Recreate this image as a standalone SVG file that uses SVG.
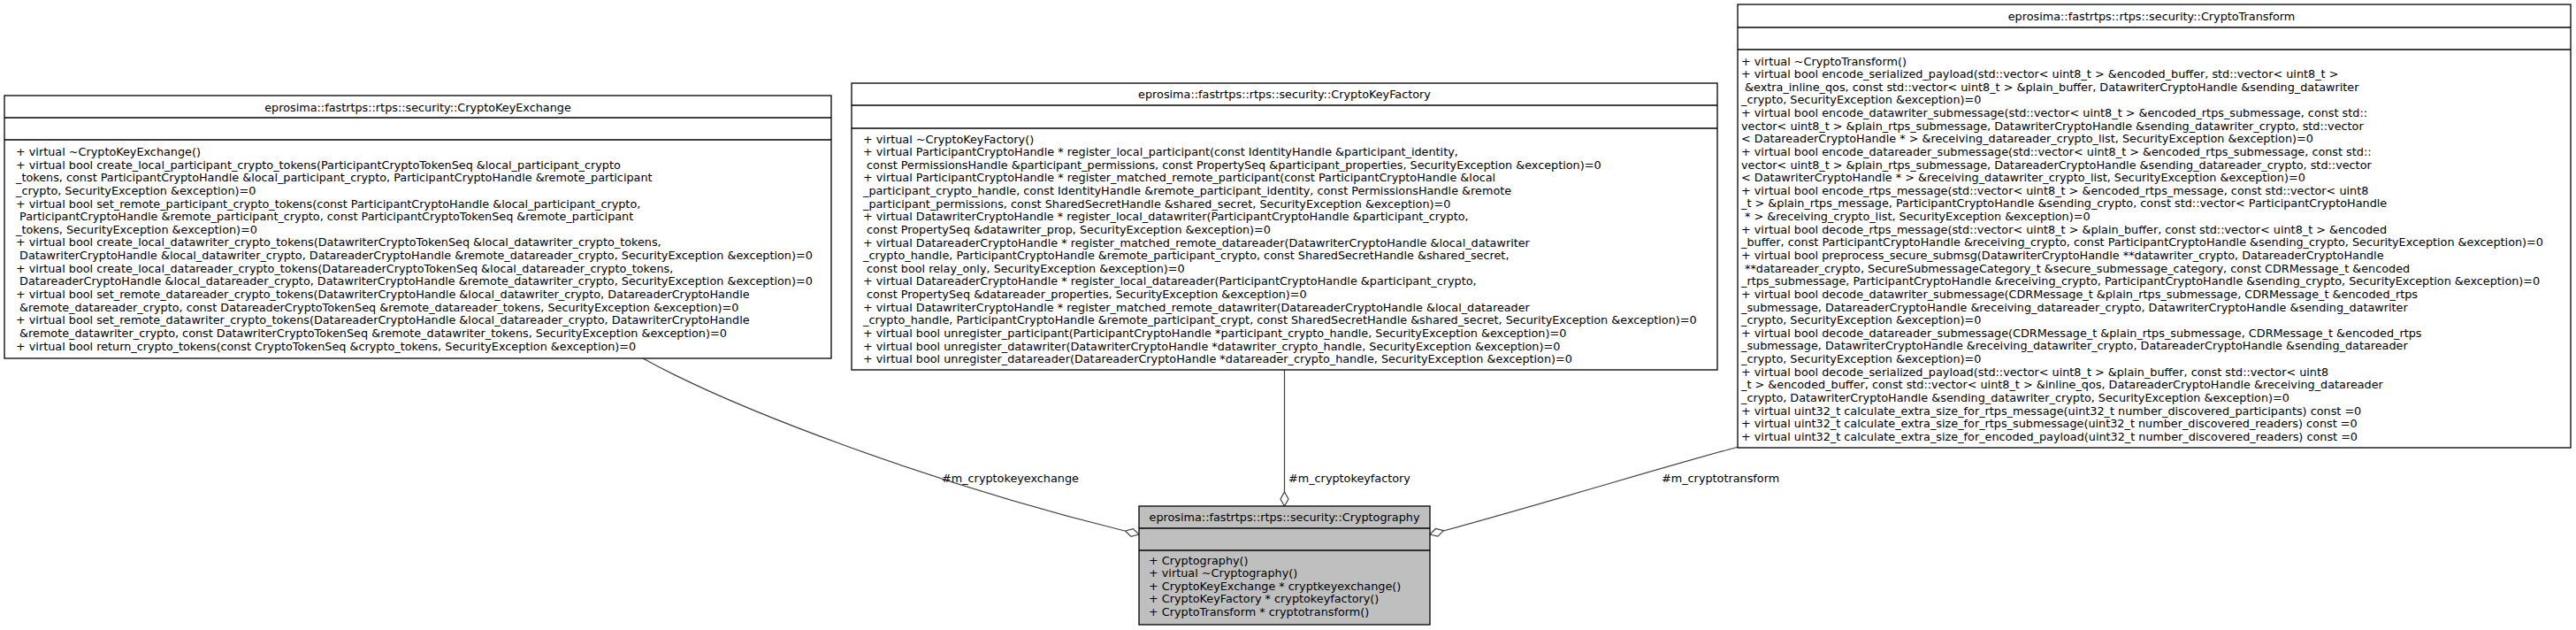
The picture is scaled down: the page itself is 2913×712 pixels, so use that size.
<svg xmlns="http://www.w3.org/2000/svg" width="2913" height="712" viewBox="0 0 2913 712">
<style>
.bg{fill:#ffffff}
.box{fill:#ffffff;stroke:#000000;stroke-width:1.3}
.cur{fill:#bfbfbf;stroke:#000000;stroke-width:1.3}
.sep{stroke:#000000;stroke-width:1.3}
.t{font-family:"DejaVu Sans","Liberation Sans",sans-serif;font-size:12.8px;fill:#000000;white-space:pre}
.c{text-anchor:middle}
.edge{fill:none;stroke:#404040;stroke-width:1.2}
.dia{fill:#ffffff;stroke:#404040;stroke-width:1.2}
</style>
<rect class="bg" x="0" y="0" width="2913" height="712"/>
<g id="connectors">
<path class="edge" d="M727,405 C830,462 1050,545 1272,600"/>
<polygon class="dia" points="1288,604 1281.4,597.6 1272.5,600 1279.1,606.4"/>
<text class="t" x="1065" y="544.5">#m_cryptokeyexchange</text>
<path class="edge" d="M1452.5,418 L1452.5,556"/>
<polygon class="dia" points="1452.5,556 1457,564 1452.5,572 1448,564"/>
<text class="t" x="1457" y="544.5">#m_cryptokeyfactory</text>
<path class="edge" d="M1966,505 C1900,522 1760,565 1632,600"/>
<polygon class="dia" points="1617,604 1623.5,597.5 1632.4,599.7 1625.9,606.1"/>
<text class="t" x="1879" y="544.5">#m_cryptotransform</text>
</g>
<g id="CryptoKeyExchange">
<rect class="box" x="5" y="108" width="935" height="297"/>
<line class="sep" x1="5" y1="133" x2="940" y2="133"/>
<line class="sep" x1="5" y1="158" x2="940" y2="158"/>
<text class="t c" x="472.5" y="126">eprosima::fastrtps::rtps::security::CryptoKeyExchange</text>
<text class="t" x="18" y="176">+ virtual ~CryptoKeyExchange()</text>
<text class="t" x="18" y="190.6">+ virtual bool create_local_participant_crypto_tokens(ParticipantCryptoTokenSeq &amp;local_participant_crypto</text>
<text class="t" x="18" y="205.3">_tokens, const ParticipantCryptoHandle &amp;local_participant_crypto, ParticipantCryptoHandle &amp;remote_participant</text>
<text class="t" x="18" y="219.9">_crypto, SecurityException &amp;exception)=0</text>
<text class="t" x="18" y="234.5">+ virtual bool set_remote_participant_crypto_tokens(const ParticipantCryptoHandle &amp;local_participant_crypto,</text>
<text class="t" x="18" y="249.2"> ParticipantCryptoHandle &amp;remote_participant_crypto, const ParticipantCryptoTokenSeq &amp;remote_participant</text>
<text class="t" x="18" y="263.8">_tokens, SecurityException &amp;exception)=0</text>
<text class="t" x="18" y="278.4">+ virtual bool create_local_datawriter_crypto_tokens(DatawriterCryptoTokenSeq &amp;local_datawriter_crypto_tokens,</text>
<text class="t" x="18" y="293"> DatawriterCryptoHandle &amp;local_datawriter_crypto, DatareaderCryptoHandle &amp;remote_datareader_crypto, SecurityException &amp;exception)=0</text>
<text class="t" x="18" y="307.7">+ virtual bool create_local_datareader_crypto_tokens(DatareaderCryptoTokenSeq &amp;local_datareader_crypto_tokens,</text>
<text class="t" x="18" y="322.3"> DatareaderCryptoHandle &amp;local_datareader_crypto, DatawriterCryptoHandle &amp;remote_datawriter_crypto, SecurityException &amp;exception)=0</text>
<text class="t" x="18" y="336.9">+ virtual bool set_remote_datareader_crypto_tokens(DatawriterCryptoHandle &amp;local_datawriter_crypto, DatareaderCryptoHandle</text>
<text class="t" x="18" y="351.6"> &amp;remote_datareader_crypto, const DatareaderCryptoTokenSeq &amp;remote_datareader_tokens, SecurityException &amp;exception)=0</text>
<text class="t" x="18" y="366.2">+ virtual bool set_remote_datawriter_crypto_tokens(DatareaderCryptoHandle &amp;local_datareader_crypto, DatawriterCryptoHandle</text>
<text class="t" x="18" y="380.8"> &amp;remote_datawriter_crypto, const DatawriterCryptoTokenSeq &amp;remote_datawriter_tokens, SecurityException &amp;exception)=0</text>
<text class="t" x="18" y="395.5">+ virtual bool return_crypto_tokens(const CryptoTokenSeq &amp;crypto_tokens, SecurityException &amp;exception)=0</text>
</g>
<g id="CryptoKeyFactory">
<rect class="box" x="963" y="94" width="979" height="324"/>
<line class="sep" x1="963" y1="119" x2="1942" y2="119"/>
<line class="sep" x1="963" y1="145" x2="1942" y2="145"/>
<text class="t c" x="1452.5" y="110.5">eprosima::fastrtps::rtps::security::CryptoKeyFactory</text>
<text class="t" x="976" y="161.5">+ virtual ~CryptoKeyFactory()</text>
<text class="t" x="976" y="176.1">+ virtual ParticipantCryptoHandle * register_local_participant(const IdentityHandle &amp;participant_identity,</text>
<text class="t" x="976" y="190.8"> const PermissionsHandle &amp;participant_permissions, const PropertySeq &amp;participant_properties, SecurityException &amp;exception)=0</text>
<text class="t" x="976" y="205.4">+ virtual ParticipantCryptoHandle * register_matched_remote_participant(const ParticipantCryptoHandle &amp;local</text>
<text class="t" x="976" y="220">_participant_crypto_handle, const IdentityHandle &amp;remote_participant_identity, const PermissionsHandle &amp;remote</text>
<text class="t" x="976" y="234.7">_participant_permissions, const SharedSecretHandle &amp;shared_secret, SecurityException &amp;exception)=0</text>
<text class="t" x="976" y="249.3">+ virtual DatawriterCryptoHandle * register_local_datawriter(ParticipantCryptoHandle &amp;participant_crypto,</text>
<text class="t" x="976" y="263.9"> const PropertySeq &amp;datawriter_prop, SecurityException &amp;exception)=0</text>
<text class="t" x="976" y="278.5">+ virtual DatareaderCryptoHandle * register_matched_remote_datareader(DatawriterCryptoHandle &amp;local_datawriter</text>
<text class="t" x="976" y="293.2">_crypto_handle, ParticipantCryptoHandle &amp;remote_participant_crypto, const SharedSecretHandle &amp;shared_secret,</text>
<text class="t" x="976" y="307.8"> const bool relay_only, SecurityException &amp;exception)=0</text>
<text class="t" x="976" y="322.4">+ virtual DatareaderCryptoHandle * register_local_datareader(ParticipantCryptoHandle &amp;participant_crypto,</text>
<text class="t" x="976" y="337.1"> const PropertySeq &amp;datareader_properties, SecurityException &amp;exception)=0</text>
<text class="t" x="976" y="351.7">+ virtual DatawriterCryptoHandle * register_matched_remote_datawriter(DatareaderCryptoHandle &amp;local_datareader</text>
<text class="t" x="976" y="366.3">_crypto_handle, ParticipantCryptoHandle &amp;remote_participant_crypt, const SharedSecretHandle &amp;shared_secret, SecurityException &amp;exception)=0</text>
<text class="t" x="976" y="381">+ virtual bool unregister_participant(ParticipantCryptoHandle *participant_crypto_handle, SecurityException &amp;exception)=0</text>
<text class="t" x="976" y="395.6">+ virtual bool unregister_datawriter(DatawriterCryptoHandle *datawriter_crypto_handle, SecurityException &amp;exception)=0</text>
<text class="t" x="976" y="410.2">+ virtual bool unregister_datareader(DatareaderCryptoHandle *datareader_crypto_handle, SecurityException &amp;exception)=0</text>
</g>
<g id="CryptoTransform">
<rect class="box" x="1965" y="5" width="942" height="501"/>
<line class="sep" x1="1965" y1="31" x2="2907" y2="31"/>
<line class="sep" x1="1965" y1="56" x2="2907" y2="56"/>
<text class="t c" x="2433" y="22.5">eprosima::fastrtps::rtps::security::CryptoTransform</text>
<text class="t" x="1969" y="73.5">+ virtual ~CryptoTransform()</text>
<text class="t" x="1969" y="88.1">+ virtual bool encode_serialized_payload(std::vector&lt; uint8_t &gt; &amp;encoded_buffer, std::vector&lt; uint8_t &gt;</text>
<text class="t" x="1969" y="102.8"> &amp;extra_inline_qos, const std::vector&lt; uint8_t &gt; &amp;plain_buffer, DatawriterCryptoHandle &amp;sending_datawriter</text>
<text class="t" x="1969" y="117.4">_crypto, SecurityException &amp;exception)=0</text>
<text class="t" x="1969" y="132">+ virtual bool encode_datawriter_submessage(std::vector&lt; uint8_t &gt; &amp;encoded_rtps_submessage, const std::</text>
<text class="t" x="1969" y="146.7">vector&lt; uint8_t &gt; &amp;plain_rtps_submessage, DatawriterCryptoHandle &amp;sending_datawriter_crypto, std::vector</text>
<text class="t" x="1969" y="161.3">&lt; DatareaderCryptoHandle * &gt; &amp;receiving_datareader_crypto_list, SecurityException &amp;exception)=0</text>
<text class="t" x="1969" y="175.9">+ virtual bool encode_datareader_submessage(std::vector&lt; uint8_t &gt; &amp;encoded_rtps_submessage, const std::</text>
<text class="t" x="1969" y="190.5">vector&lt; uint8_t &gt; &amp;plain_rtps_submessage, DatareaderCryptoHandle &amp;sending_datareader_crypto, std::vector</text>
<text class="t" x="1969" y="205.2">&lt; DatawriterCryptoHandle * &gt; &amp;receiving_datawriter_crypto_list, SecurityException &amp;exception)=0</text>
<text class="t" x="1969" y="219.8">+ virtual bool encode_rtps_message(std::vector&lt; uint8_t &gt; &amp;encoded_rtps_message, const std::vector&lt; uint8</text>
<text class="t" x="1969" y="234.4">_t &gt; &amp;plain_rtps_message, ParticipantCryptoHandle &amp;sending_crypto, const std::vector&lt; ParticipantCryptoHandle</text>
<text class="t" x="1969" y="249.1"> * &gt; &amp;receiving_crypto_list, SecurityException &amp;exception)=0</text>
<text class="t" x="1969" y="263.7">+ virtual bool decode_rtps_message(std::vector&lt; uint8_t &gt; &amp;plain_buffer, const std::vector&lt; uint8_t &gt; &amp;encoded</text>
<text class="t" x="1969" y="278.3">_buffer, const ParticipantCryptoHandle &amp;receiving_crypto, const ParticipantCryptoHandle &amp;sending_crypto, SecurityException &amp;exception)=0</text>
<text class="t" x="1969" y="293">+ virtual bool preprocess_secure_submsg(DatawriterCryptoHandle **datawriter_crypto, DatareaderCryptoHandle</text>
<text class="t" x="1969" y="307.6"> **datareader_crypto, SecureSubmessageCategory_t &amp;secure_submessage_category, const CDRMessage_t &amp;encoded</text>
<text class="t" x="1969" y="322.2">_rtps_submessage, ParticipantCryptoHandle &amp;receiving_crypto, ParticipantCryptoHandle &amp;sending_crypto, SecurityException &amp;exception)=0</text>
<text class="t" x="1969" y="336.8">+ virtual bool decode_datawriter_submessage(CDRMessage_t &amp;plain_rtps_submessage, CDRMessage_t &amp;encoded_rtps</text>
<text class="t" x="1969" y="351.5">_submessage, DatareaderCryptoHandle &amp;receiving_datareader_crypto, DatawriterCryptoHandle &amp;sending_datawriter</text>
<text class="t" x="1969" y="366.1">_crypto, SecurityException &amp;exception)=0</text>
<text class="t" x="1969" y="380.7">+ virtual bool decode_datareader_submessage(CDRMessage_t &amp;plain_rtps_submessage, CDRMessage_t &amp;encoded_rtps</text>
<text class="t" x="1969" y="395.4">_submessage, DatawriterCryptoHandle &amp;receiving_datawriter_crypto, DatareaderCryptoHandle &amp;sending_datareader</text>
<text class="t" x="1969" y="410">_crypto, SecurityException &amp;exception)=0</text>
<text class="t" x="1969" y="424.6">+ virtual bool decode_serialized_payload(std::vector&lt; uint8_t &gt; &amp;plain_buffer, const std::vector&lt; uint8</text>
<text class="t" x="1969" y="439.3">_t &gt; &amp;encoded_buffer, const std::vector&lt; uint8_t &gt; &amp;inline_qos, DatareaderCryptoHandle &amp;receiving_datareader</text>
<text class="t" x="1969" y="453.9">_crypto, DatawriterCryptoHandle &amp;sending_datawriter_crypto, SecurityException &amp;exception)=0</text>
<text class="t" x="1969" y="468.5">+ virtual uint32_t calculate_extra_size_for_rtps_message(uint32_t number_discovered_participants) const =0</text>
<text class="t" x="1969" y="483.1">+ virtual uint32_t calculate_extra_size_for_rtps_submessage(uint32_t number_discovered_readers) const =0</text>
<text class="t" x="1969" y="497.8">+ virtual uint32_t calculate_extra_size_for_encoded_payload(uint32_t number_discovered_readers) const =0</text>
</g>
<g id="Cryptography">
<rect class="cur" x="1288" y="572" width="329" height="134"/>
<line class="sep" x1="1288" y1="597" x2="1617" y2="597"/>
<line class="sep" x1="1288" y1="622" x2="1617" y2="622"/>
<text class="t c" x="1452.5" y="588.5">eprosima::fastrtps::rtps::security::Cryptography</text>
<text class="t" x="1299" y="637.5">+ Cryptography()</text>
<text class="t" x="1299" y="652.1">+ virtual ~Cryptography()</text>
<text class="t" x="1299" y="666.8">+ CryptoKeyExchange * cryptkeyexchange()</text>
<text class="t" x="1299" y="681.4">+ CryptoKeyFactory * cryptokeyfactory()</text>
<text class="t" x="1299" y="696">+ CryptoTransform * cryptotransform()</text>
</g>
</svg>
